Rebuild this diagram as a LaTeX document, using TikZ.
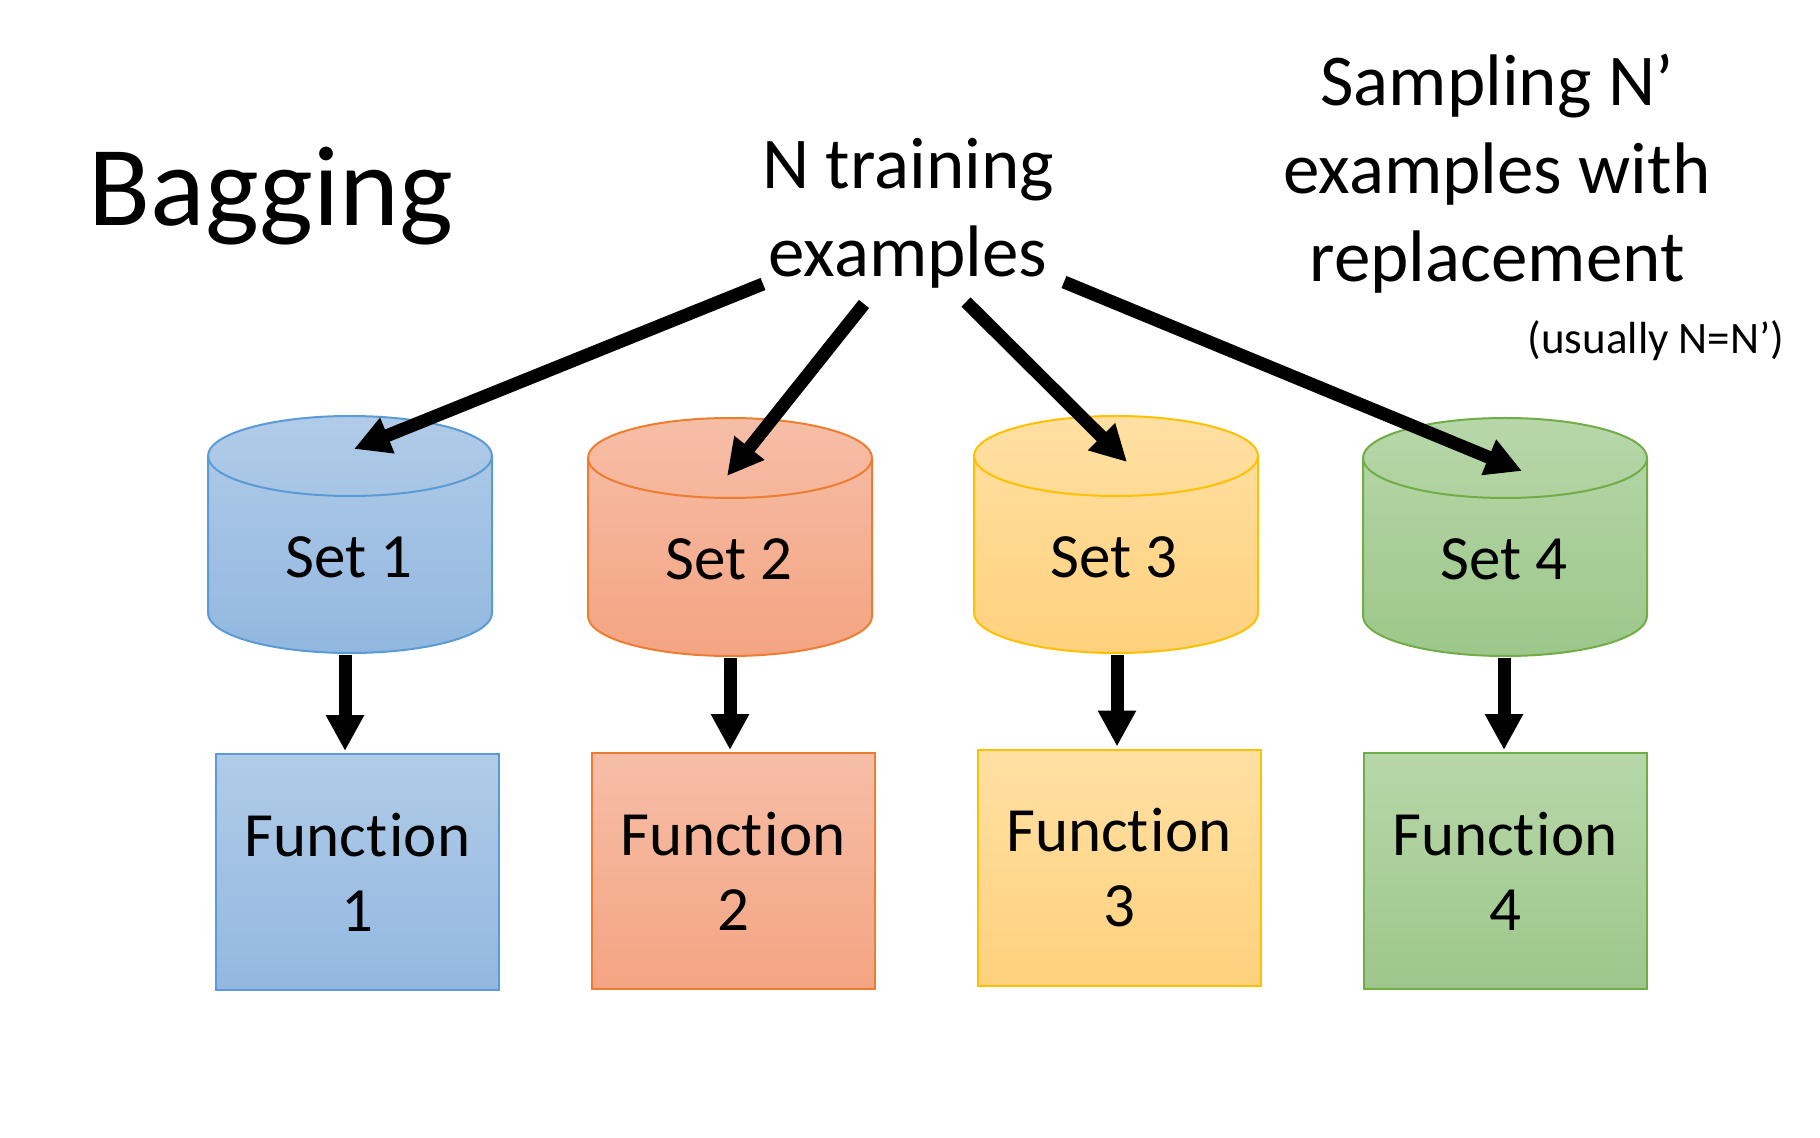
\documentclass[tikz,border=0pt]{standalone}
\usepackage{fontspec}
\setmainfont{Carlito}[Ligatures=NoCommon]
\usetikzlibrary{arrows.meta}
\definecolor{bTop}{HTML}{B1CBE8}
\definecolor{bBot}{HTML}{92B8E0}
\definecolor{bLine}{HTML}{5B9BD5}
\definecolor{oTop}{HTML}{F6BEA7}
\definecolor{oBot}{HTML}{F4A482}
\definecolor{oLine}{HTML}{ED7D31}
\definecolor{yTop}{HTML}{FFE0A3}
\definecolor{yBot}{HTML}{FFD17D}
\definecolor{yLine}{HTML}{FFC000}
\definecolor{gTop}{HTML}{B7D7A9}
\definecolor{gBot}{HTML}{9DC78A}
\definecolor{gLine}{HTML}{70AD47}
\newcommand{\drawcyl}[6]{%
  \path[top color=#4, bottom color=#5, draw=#6, line width=1pt]
    (#1-142,#2) -- (#1-142,#3)
    arc[start angle=180,end angle=360,x radius=71pt,y radius=20pt]
    -- (#1+142,#2)
    arc[start angle=0,end angle=180,x radius=71pt,y radius=20pt] -- cycle;
  \draw[draw=#6, line width=1pt] (#1-142,#2)
    arc[start angle=180,end angle=360,x radius=71pt,y radius=20pt];
}
\newcommand{\Fnword}{Func\kern0pt t\kern1pt ion}
\begin{document}
\begin{tikzpicture}[x=0.5pt,y=-0.5pt,
  bigarrow/.style={line width=6.5pt, -{Triangle[length=18pt,width=18pt]}},
  funbox/.style={draw, line width=1pt, minimum width=141.5pt, minimum height=118pt, inner sep=0pt, align=center, font=\fontsize{31.5}{37.5}\selectfont},
  settext/.style={anchor=base, font=\fontsize{31.5}{37.5}\selectfont},
  bigtext/.style={align=center, font=\fontsize{36.5}{44}\selectfont}]
\useasboundingbox (0,0) rectangle (1820,1138);

% title
\node[anchor=base west, inner sep=0pt, font=\fontsize{57}{68}\selectfont] (bag) at (88,226) {Bagging};
\node[bigtext, anchor=base] (ntrain) at (908,277) {N training\\examples};
\node[bigtext, anchor=base] (samp) at (1497,282) {Sampling N’\\examples with\\replacement};
\node[anchor=base, font=\fontsize{22.5}{27}\selectfont] (usual) at (1656,354) {(usually N=N’)};

% cylinders
\drawcyl{350}{456}{613}{bTop}{bBot}{bLine}
\drawcyl{730}{458}{616}{oTop}{oBot}{oLine}
\drawcyl{1116}{456}{613}{yTop}{yBot}{yLine}
\drawcyl{1505}{458}{616}{gTop}{gBot}{gLine}
\node[settext] (set1) at (349,578) {Set 1};
\node[settext] (set2) at (729,580) {Set 2};
\node[settext] (set3) at (1114,578) {Set 3};
\node[settext] (set4) at (1504,580) {Set 4};

% function boxes
\node[funbox, draw=bLine, top color=bTop, bottom color=bBot] (fun1) at (357.5,872) {\Fnword\\1};
\node[funbox, draw=oLine, top color=oTop, bottom color=oBot] (fun2) at (733,871) {\Fnword\\2};
\node[funbox, draw=yLine, top color=yTop, bottom color=yBot] (fun3) at (1119,867.5) {\Fnword\\3};
\node[funbox, draw=gLine, top color=gTop, bottom color=gBot] (fun4) at (1505,871) {\Fnword\\4};

% arrow endpoints
\coordinate (s1) at (763,284); \coordinate (t1) at (354,449);
\coordinate (s2) at (864,304); \coordinate (t2) at (727,476);
\coordinate (s3) at (966,302); \coordinate (t3) at (1127,462);
\coordinate (s4) at (1064,282); \coordinate (t4) at (1522,471);
\draw[bigarrow] (s1) -- (t1);
\draw[bigarrow] (s2) -- (t2);
\draw[bigarrow] (s3) -- (t3);
\draw[bigarrow] (s4) -- (t4);

\coordinate (b1) at (345,655);
\coordinate (b2) at (730,658);
\coordinate (b3) at (1117,655);
\coordinate (b4) at (1504,658);
\draw[bigarrow, shorten >=1pt] (b1) -- (b1 |- fun1.north);
\draw[bigarrow, shorten >=1pt] (b2) -- (b2 |- fun2.north);
\draw[bigarrow, shorten >=1pt] (b3) -- (b3 |- fun3.north);
\draw[bigarrow, shorten >=1pt] (b4) -- (b4 |- fun4.north);
\end{tikzpicture}
\end{document}
